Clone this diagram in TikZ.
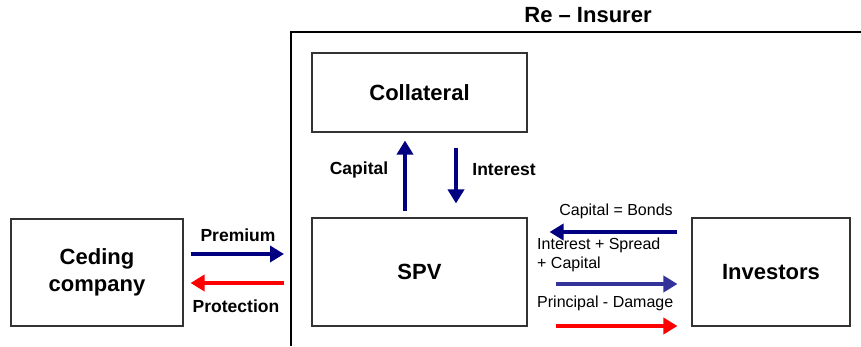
\documentclass[tikz,border=0pt]{standalone}
\usepackage{fontspec}
\setmainfont{Liberation Sans}
\usetikzlibrary{arrows.meta,calc}
\definecolor{navy}{RGB}{0,0,128}
\definecolor{midblue}{RGB}{51,51,153}
\definecolor{brightred}{RGB}{255,0,0}
\begin{document}
\begin{tikzpicture}[x=1pt,y=-1pt,
  box/.style={draw=black!80,line width=1.1pt,inner sep=0pt,font=\fontsize{22}{27}\selectfont\bfseries,align=center},
  flow/.style={line width=4pt,-{Triangle[length=14pt,width=16pt]}},
  blab/.style={font=\fontsize{17.5}{20}\selectfont\bfseries,inner sep=0pt},
  rlab/.style={font=\fontsize{16}{19}\selectfont,inner sep=0pt,align=left}]
\useasboundingbox (0,0) rectangle (861,346);
\fill[white] (0,0) rectangle (861,346);
% frame
\draw[line width=1.5pt] (291,346) -- (291,32) -- (861,32);
\node[font=\fontsize{22}{25}\selectfont\bfseries,inner sep=0pt] (title) at (588,15) {Re -- Insurer};
% boxes
\node[box,minimum width=172pt,minimum height=107pt] (ceding) at (97,272.5) {Ceding\\company};
\node[box,minimum width=215pt,minimum height=79pt] (coll) at (419.5,92.5) {Collateral};
\node[box,minimum width=215pt,minimum height=108pt] (spv) at (419.5,272) {SPV};
\node[box,minimum width=158pt,minimum height=108pt] (inv) at (771,272) {Investors};
% left arrows
\coordinate (pA) at ($(ceding.east)+(7,-18.5)$);
\coordinate (pB) at (284,254);
\draw[flow,navy] (pA) -- (pB);
\coordinate (rA) at (284,283);
\coordinate (rB) at ($(ceding.east)+(7,10.5)$);
\draw[flow,brightred] (rA) -- (rB);
\node[blab] (prem) at (238,235) {Premium};
\node[blab] (prot) at (236,306) {Protection};
% vertical arrows
\draw[flow,navy] ($(spv.north)+(-14.5,-6)$) -- ($(coll.south)+(-14.5,8)$);
\draw[flow,navy] ($(coll.south)+(36.5,15)$) -- ($(spv.north)+(36.5,-14)$);
\node[blab] (cap) at (359,170) {Capital};
\node[blab] (int) at (504,170) {Interest};
% right arrows
\draw[flow,navy] ($(inv.west)+(-14,-40)$) -- ($(spv.east)+(22,-40)$);
\draw[flow,midblue] ($(spv.east)+(28,12)$) -- ($(inv.west)+(-14,12)$);
\draw[flow,brightred] ($(spv.east)+(28,54)$) -- ($(inv.west)+(-14,54)$);
\node[rlab] (bonds) at (616,211) {Capital = Bonds};
\node[rlab,anchor=north west] (isc) at (537,238) {Interest + Spread\\+ Capital};
\node[rlab,anchor=west] (pd) at (537,303) {Principal - Damage};
\end{tikzpicture}
\end{document}
